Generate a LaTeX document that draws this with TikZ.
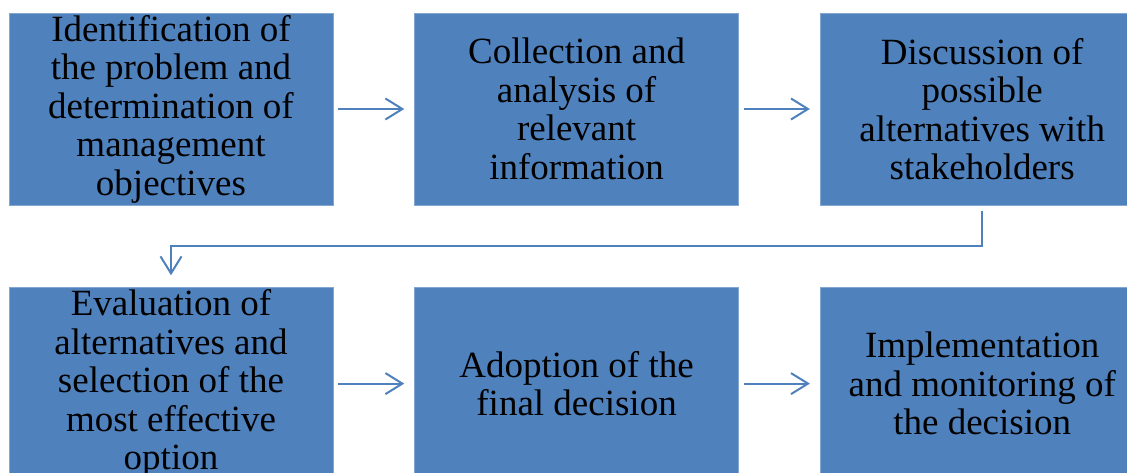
\documentclass[tikz,border=0pt]{standalone}
\usepackage{fontspec}
\setmainfont{Liberation Serif}
\usetikzlibrary{positioning,arrows.meta}
\definecolor{boxblue}{HTML}{4F81BD}
\tikzset{
    every node/.style={font=\rmfamily\fontsize{37}{38.5}\selectfont},
    stepbox/.style={fill=boxblue, draw=boxblue!70!white, line width=0.6pt, minimum width=324pt, minimum height=192pt, inner sep=0pt, align=center, text=black},
    arrow/.style={-{Straight Barb[length=17pt,width=21pt]}, draw=boxblue, line width=2pt},
}
\begin{document}
\begin{tikzpicture}[node distance=82pt and 81pt]
% page frame
\clip (0pt,0pt) rectangle (1127pt,-473pt);
% top row
\node[stepbox] (ident) at (171pt,-109pt) {Identification of\\the problem and\\determination of\\management\\objectives};
\node[stepbox, right=of ident] (collect) {Collection and\\analysis of\\relevant\\information};
\node[stepbox, right=of collect] (discuss) {Discussion of\\possible\\alternatives with\\stakeholders};
% bottom row
\node[stepbox, below=of ident] (evaluate) {Evaluation of\\alternatives and\\selection of the\\most effective\\option};
\node[stepbox, right=of evaluate] (adopt) {Adoption of the\\final decision};
\node[stepbox, right=of adopt] (implement) {Implementation\\and monitoring of\\the decision};

\foreach \from/\to in {ident/collect, collect/discuss, evaluate/adopt, adopt/implement}{
  \draw[arrow] ([xshift=5pt]\from.east) -- ([xshift=-10pt]\to.west);
}

% back to the second row
\draw[arrow] ([yshift=-6pt]discuss.south) -- ++(0,-35pt) -| ([yshift=12pt]evaluate.north);
\end{tikzpicture}
\end{document}
